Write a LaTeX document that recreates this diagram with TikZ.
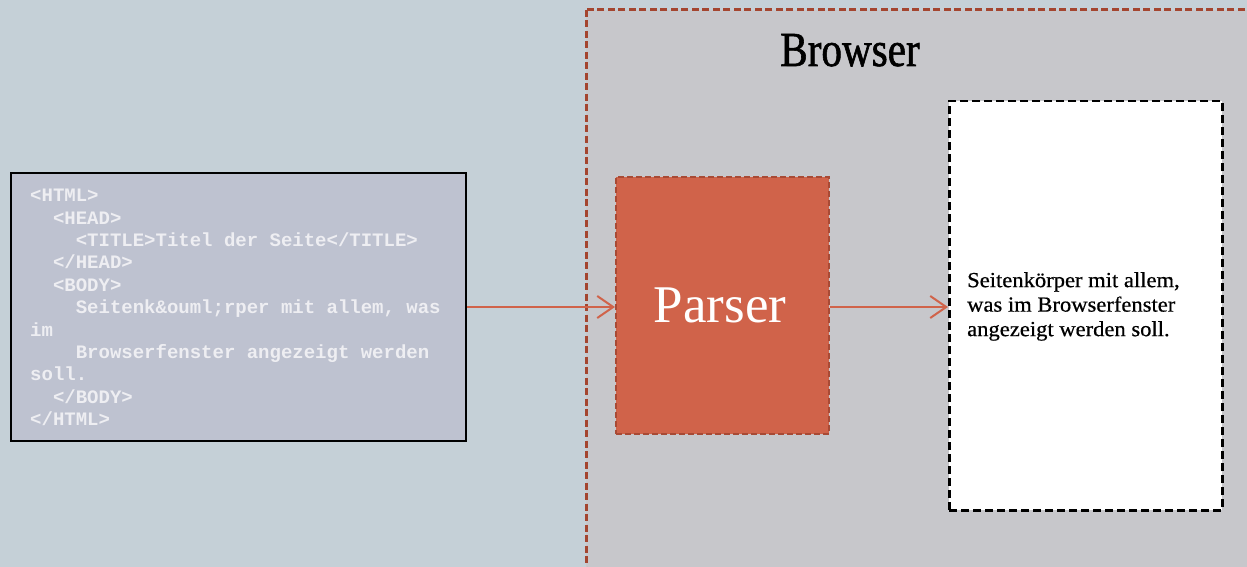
\documentclass[tikz,border=0pt]{standalone}
\usepackage{fontspec}
\setmainfont{Liberation Serif}
\setmonofont{Liberation Mono}
\newfontfamily\condfont[FakeStretch=0.84,FakeBold=1.2]{Liberation Serif}
\newfontfamily\widefont[FakeStretch=1.05,FakeBold=0.6]{Liberation Serif}
\usetikzlibrary{arrows.meta}
\definecolor{bgcol}{HTML}{C5D0D7}
\definecolor{browserfill}{HTML}{C7C7CB}
\definecolor{browseredge}{HTML}{A4452F}
\definecolor{codefill}{HTML}{BEC2D0}
\definecolor{parserfill}{HTML}{D0634A}
\definecolor{parseredge}{HTML}{A84A35}
\definecolor{codetext}{HTML}{EEEEF2}
\tikzset{
  conn/.style={draw=parserfill, line width=2pt, -{Straight Barb[length=16pt,width=22pt,line width=2pt]}},
  codebox/.style={draw=black, line width=2pt, fill=codefill},
  parserbox/.style={draw=parseredge, line width=2pt, dash pattern=on 6pt off 3pt, fill=parserfill},
  pagebox/.style={draw=black, line width=2.5pt, dash pattern=on 8pt off 4pt, fill=white},
  browserbox/.style={draw=browseredge, line width=3pt, dash pattern=on 7pt off 3.5pt, fill=browserfill},
}
\begin{document}
\begin{tikzpicture}[x=1pt,y=-1pt]
\useasboundingbox (0,0) rectangle (1247,567);
\fill[bgcol] (0,0) rectangle (1247,567);
% browser area
\draw[browserbox] (586,10) rectangle (1262,582);
\node[anchor=base, inner sep=0, font=\condfont\fontsize{49}{49}\selectfont] (browserlabel) at (850,66) {Browser};
% html code box
\node[codebox, minimum width=455pt, minimum height=268pt, anchor=north west, inner sep=0] (code) at (10,172) {};
\node[anchor=north west, inner sep=0, align=left, text=codetext,
      font=\ttfamily\bfseries\fontsize{19}{22.4}\selectfont] (codetext) at (30,189)
{<HTML>\\
\phantom{xx}<HEAD>\\
\phantom{xxxx}<TITLE>Titel der Seite</TITLE>\\
\phantom{xx}</HEAD>\\
\phantom{xx}<BODY>\\
\phantom{xxxx}Seitenk\&ouml;rper mit allem, was\\
im\\
\phantom{xxxx}Browserfenster angezeigt werden\\
soll.\\
\phantom{xx}</BODY>\\
</HTML>};
% parser
\node[parserbox, minimum width=213pt, minimum height=257pt, anchor=north west, inner sep=0] (parser) at (615,176) {};
\node[anchor=base, inner sep=0, text=white, font=\fontsize{53}{53}\selectfont] (parserlabel) at (720,322) {Parser};
% page box
\node[pagebox, minimum width=273pt, minimum height=409pt, anchor=north west, inner sep=0] (page) at (948,100) {};
\node[anchor=north west, inner sep=0, align=left, font=\widefont\fontsize{21.5}{24.5}\selectfont] (pagetext) at (967,272)
{Seitenkörper mit allem,\\was im Browserfenster\\angezeigt werden soll.};
% connectors
\coordinate (a1) at (code.east |- 0,307);
\coordinate (a2) at (parser.west |- 0,307);
\coordinate (b1) at (parser.east |- 0,307);
\coordinate (b2) at (page.west |- 0,307);
\draw[conn] (a1) -- (a2);
\draw[conn] (b1) -- (b2);
\end{tikzpicture}
\end{document}
